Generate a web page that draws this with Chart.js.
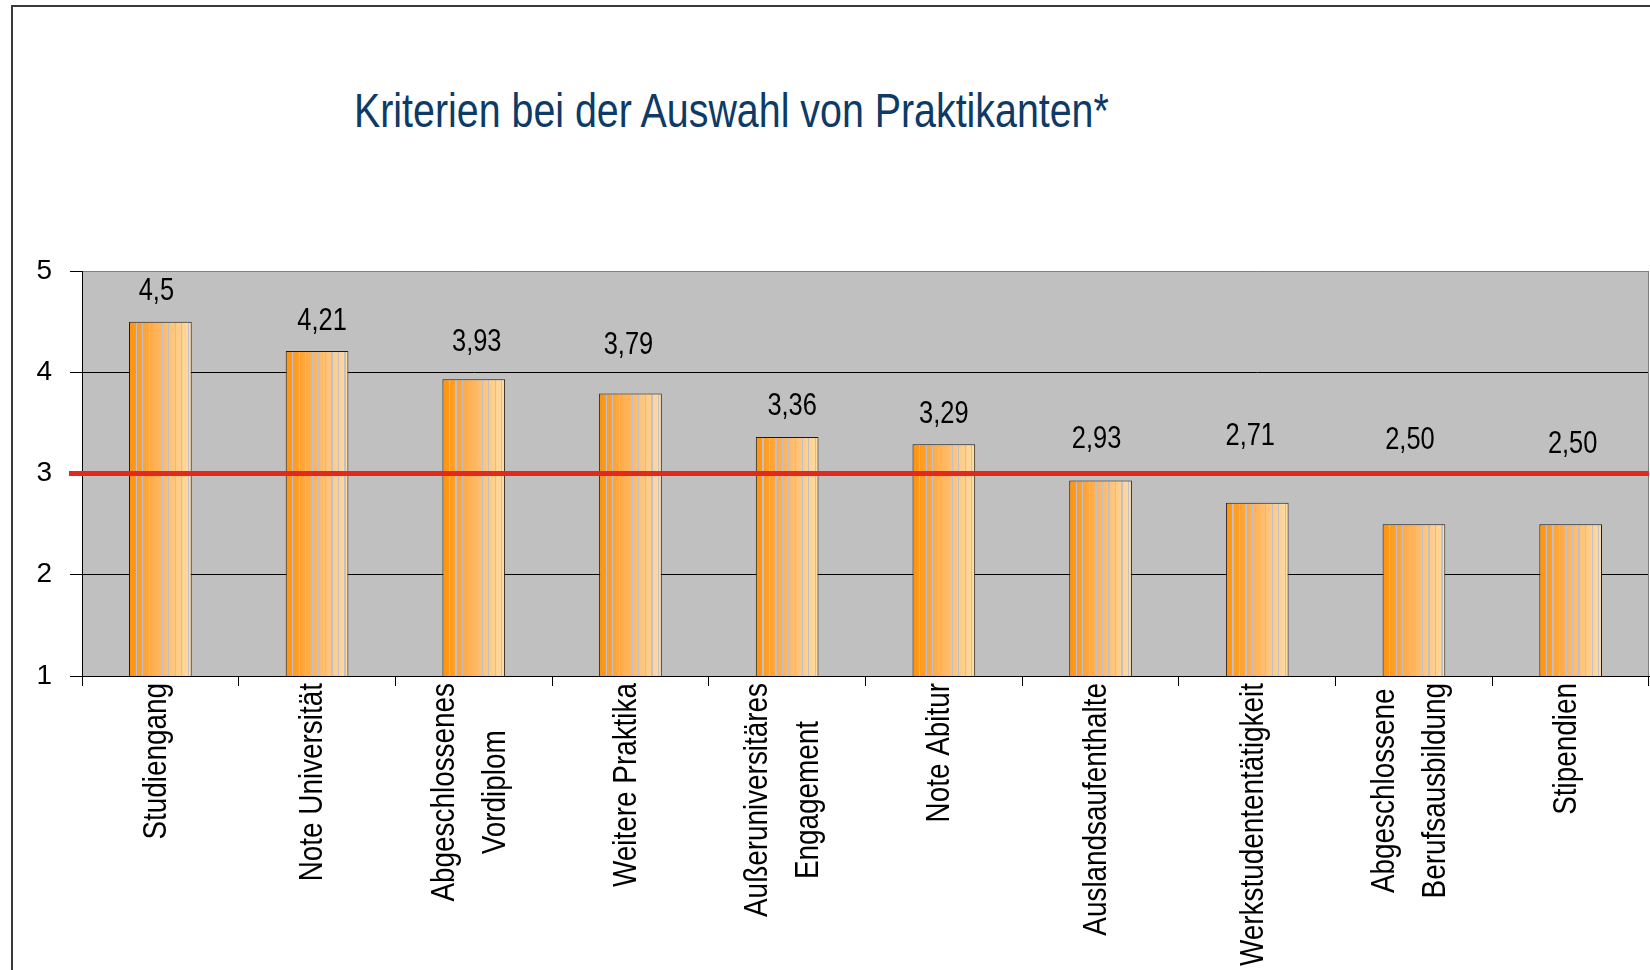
<!DOCTYPE html>
<html>
<head>
<meta charset="utf-8">
<script src="https://cdn.jsdelivr.net/npm/chart.js@4.4.0/dist/chart.umd.min.js"></script>
<style>
  html, body { margin: 0; padding: 0; background: #fff; }
  #wrap { position: relative; width: 1650px; height: 970px; overflow: hidden; }
  #frame { position: absolute; left: 11px; top: 5px; width: 1700px; height: 1000px;
           border-left: 2px solid #3a3a3a; border-top: 2px solid #3a3a3a; }
  #title { position: absolute; left: 354px; top: 87px; line-height: 48px; white-space: nowrap;
           font-family: "Liberation Sans", Arial, sans-serif;
           font-size: 48px; color: #0d3a66;
           transform: scaleX(0.82); transform-origin: 0 0; }
  canvas { position: absolute; left: 0; top: 0; }
</style>
</head>
<body>
<div id="wrap">
  <div id="frame"></div>
  <div id="title">Kriterien bei der Auswahl von Praktikanten*</div>
  <canvas id="chart" width="1650" height="970"></canvas>
</div>
<script>
// ---------------- data ----------------
var categories = [
  'Studiengang',
  'Note Universität',
  ['Abgeschlossenes', 'Vordiplom'],
  'Weitere Praktika',
  ['Außeruniversitäres', 'Engagement'],
  'Note Abitur',
  'Auslandsaufenthalte',
  'Werkstudententätigkeit',
  ['Abgeschlossene', 'Berufsausbildung'],
  'Stipendien'
];
var scores = [4.5, 4.21, 3.93, 3.79, 3.36, 3.29, 2.93, 2.71, 2.50, 2.50];
var scoreLabels = ['4,5', '4,21', '3,93', '3,79', '3,36', '3,29', '2,93', '2,71', '2,50', '2,50'];
var yTicks = [1, 2, 3, 4, 5];
var referenceValue = 3;

// where the value labels sit relative to the bar top (px), as placed in the original
var labelLift = [30, 30, 37, 48, 31, 30, 41, 66, 84, 80];
var labelShift = [-4, 5, 3, -2, 5, 0, -4, -7, -4, 2];

// no Arial Narrow here -> squeeze Liberation Sans horizontally
var FONT = '"Liberation Sans", Arial, sans-serif';
var NARROW = 0.82;
var BAR_PCT = 0.4;

// orange -> peach gradient with thin grey stripes like the old excel fill
var fillStops = [[0, [255, 146, 8]], [0.45, [255, 178, 88]], [1, [255, 222, 166]]];
function mixAt(f) {
  for (var i = 1; i < fillStops.length; i++) {
    if (f <= fillStops[i][0]) {
      var a = fillStops[i - 1], b = fillStops[i];
      var t = (f - a[0]) / (b[0] - a[0]);
      var c = a[1].map(function (v, k) { return Math.round(v + (b[1][k] - v) * t); });
      return 'rgb(' + c.join(',') + ')';
    }
  }
  return 'rgb(' + fillStops[fillStops.length - 1][1].join(',') + ')';
}

function barFill(context) {
  var chart = context.chart;
  if (!chart.chartArea) return '#ffb45c';
  var xs = chart.scales.x;
  var w = xs.width / categories.length * BAR_PCT;
  var cx = xs.getPixelForValue(context.dataIndex);
  var x0 = cx - w / 2, x1 = cx + w / 2;
  var g = chart.ctx.createLinearGradient(x0, 0, x1, 0);
  var s = 1.2 / w;
  g.addColorStop(0, mixAt(0));
  for (var i = 1; i <= 9; i++) {
    var p = i / 9.6;
    g.addColorStop(p, mixAt(p));
    g.addColorStop(p, '#bfc0cc');
    g.addColorStop(p + s, '#bfc0cc');
    g.addColorStop(p + s, mixAt(p + s));
  }
  g.addColorStop(1, mixAt(1));
  return g;
}

function narrowText(ctx, text, x, y) {
  ctx.save();
  ctx.translate(x, y);
  ctx.scale(NARROW, 1);
  ctx.fillText(text, 0, 0);
  ctx.restore();
}

// ---------------- decorations ----------------
var decor = {
  id: 'decor',
  beforeDraw: function (chart) {
    var a = chart.chartArea, ctx = chart.ctx;
    ctx.save();
    ctx.fillStyle = '#c0c0c0';
    ctx.fillRect(a.left, a.top, a.right - a.left, a.bottom - a.top);
    ctx.restore();
  },
  afterDatasetsDraw: function (chart) {
    var a = chart.chartArea, ctx = chart.ctx;
    var y = chart.scales.y.getPixelForValue(referenceValue);
    ctx.save();
    // right border of plot
    ctx.strokeStyle = '#808080';
    ctx.lineWidth = 1;
    ctx.beginPath();
    ctx.moveTo(a.right - 0.5, a.top);
    ctx.lineTo(a.right - 0.5, a.bottom);
    ctx.stroke();
    // red reference line
    ctx.strokeStyle = '#e3281e';
    ctx.lineWidth = 5;
    ctx.beginPath();
    ctx.moveTo(69, y);
    ctx.lineTo(a.right, y);
    ctx.stroke();
    // value labels
    ctx.fillStyle = '#000';
    ctx.font = '31px ' + FONT;
    ctx.textAlign = 'center';
    ctx.textBaseline = 'middle';
    chart.getDatasetMeta(0).data.forEach(function (bar, i) {
      narrowText(ctx, scoreLabels[i], bar.x + labelShift[i], bar.y - labelLift[i]);
    });
    ctx.restore();
  },
  afterDraw: function (chart) {
    var a = chart.chartArea, ctx = chart.ctx, xs = chart.scales.x;
    var yTop = a.bottom + 7, gap = 51;
    ctx.save();
    ctx.fillStyle = '#000';
    ctx.font = '34px ' + FONT;
    ctx.textAlign = 'center';
    ctx.textBaseline = 'middle';
    categories.forEach(function (lab, i) {
      var lines = Array.isArray(lab) ? lab : [lab];
      var maxW = 0;
      lines.forEach(function (l) { maxW = Math.max(maxW, ctx.measureText(l).width * NARROW); });
      var cx = xs.getPixelForValue(i) - 4;
      lines.forEach(function (l, j) {
        ctx.save();
        ctx.translate(cx + (j - (lines.length - 1) / 2) * gap, yTop);
        ctx.rotate(-Math.PI / 2);
        narrowText(ctx, l, -maxW / 2, 0);
        ctx.restore();
      });
    });
    ctx.restore();
  }
};

// ---------------- chart ----------------
new Chart(document.getElementById('chart'), {
  type: 'bar',
  data: {
    labels: categories,
    datasets: [{
      data: scores,
      backgroundColor: barFill,
      borderColor: '#1a1a1a',
      borderWidth: 1,
      categoryPercentage: 1,
      barPercentage: BAR_PCT
    }]
  },
  options: {
    responsive: false,
    animation: false,
    devicePixelRatio: 1,
    layout: { padding: { top: 271, right: 1, left: 0, bottom: 0 } },
    plugins: { legend: { display: false }, tooltip: { enabled: false }, title: { display: false } },
    scales: {
      x: {
        afterFit: function (s) { s.height = 294; },
        ticks: { display: false },
        grid: { display: true, drawOnChartArea: false, drawTicks: true, tickLength: 10, color: '#000', offset: true },
        border: { display: true, color: '#000', width: 1 }
      },
      y: {
        min: yTicks[0],
        max: yTicks[yTicks.length - 1],
        afterFit: function (s) { s.width = 82; },
        afterBuildTicks: function (s) { s.ticks = yTicks.map(function (v) { return { value: v }; }); },
        ticks: { color: '#000', font: { family: FONT, size: 28 }, padding: 18 },
        grid: {
          color: function (c) { return c.tick && c.tick.value === yTicks[yTicks.length - 1] ? '#808080' : '#000'; },
          tickColor: '#000',
          tickLength: 12,
          lineWidth: 1
        },
        border: { display: true, color: '#000', width: 1 }
      }
    }
  },
  plugins: [decor]
});
</script>
</body>
</html>
